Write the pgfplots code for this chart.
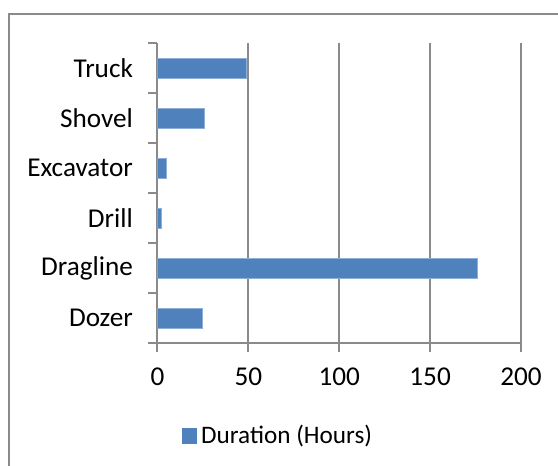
\documentclass[border=0pt]{standalone}
\usepackage{pgfplots}
\pgfplotsset{compat=1.18}
\usepackage{fontspec}
\setmainfont{Carlito}
\definecolor{barblue}{HTML}{4F81BD}
\definecolor{baredge}{HTML}{8EB0D8}
\definecolor{gridgray}{HTML}{8A8A8A}
\begin{document}
\fontsize{12.3pt}{14pt}\selectfont
\begin{tikzpicture}
\useasboundingbox (0,0) rectangle (279pt,233pt);
\draw[gridgray, line width=0.9pt] (4.5pt,-2pt) -- (4.5pt,226pt) -- (282pt,226pt);
\begin{axis}[
  at={(78.75pt,61.35pt)}, anchor=south west,
  scale only axis, width=181.75pt, height=150pt,
  xbar, bar width=10pt,
  xmin=0, xmax=200, xtick={0,50,100,150,200},
  ymin=-0.5, ymax=5.5,
  ytick={-0.5,0.5,...,5.5}, yticklabels={},
  extra y ticks={0,1,2,3,4,5},
  extra y tick labels={Dozer,Dragline,Drill,Excavator,Shovel,Truck},
  extra y tick style={major tick length=0pt, yticklabel style={xshift=-8pt}},
  axis lines*=left,
  axis line style={gridgray, line width=1pt},
  tick align=outside, major tick length=4.5pt,
  tick style={gridgray, line width=1pt},
  xmajorgrids, ymajorgrids=false,
  grid style={gridgray, line width=1pt},
  xticklabel style={yshift=-3.6pt},
  tick label style={font=\fontsize{13.6pt}{15pt}\selectfont, text=black},
  /pgf/number format/assume math mode=true,
  legend style={at={(0.334,-0.31)}, anchor=center, draw=none, fill=none,
    font=\fontsize{12.6pt}{14pt}\selectfont},
  legend image code/.code={\fill[barblue] (0pt,-3.7pt) rectangle (7.2pt,3.7pt);},
]
\addplot[fill=barblue, draw=baredge, line width=0.5pt]
  coordinates {(25,0) (176,1) (2,2) (5,3) (26,4) (49,5)};
\addlegendentry{Duration (Hours)}
\end{axis}
\end{tikzpicture}
\end{document}
